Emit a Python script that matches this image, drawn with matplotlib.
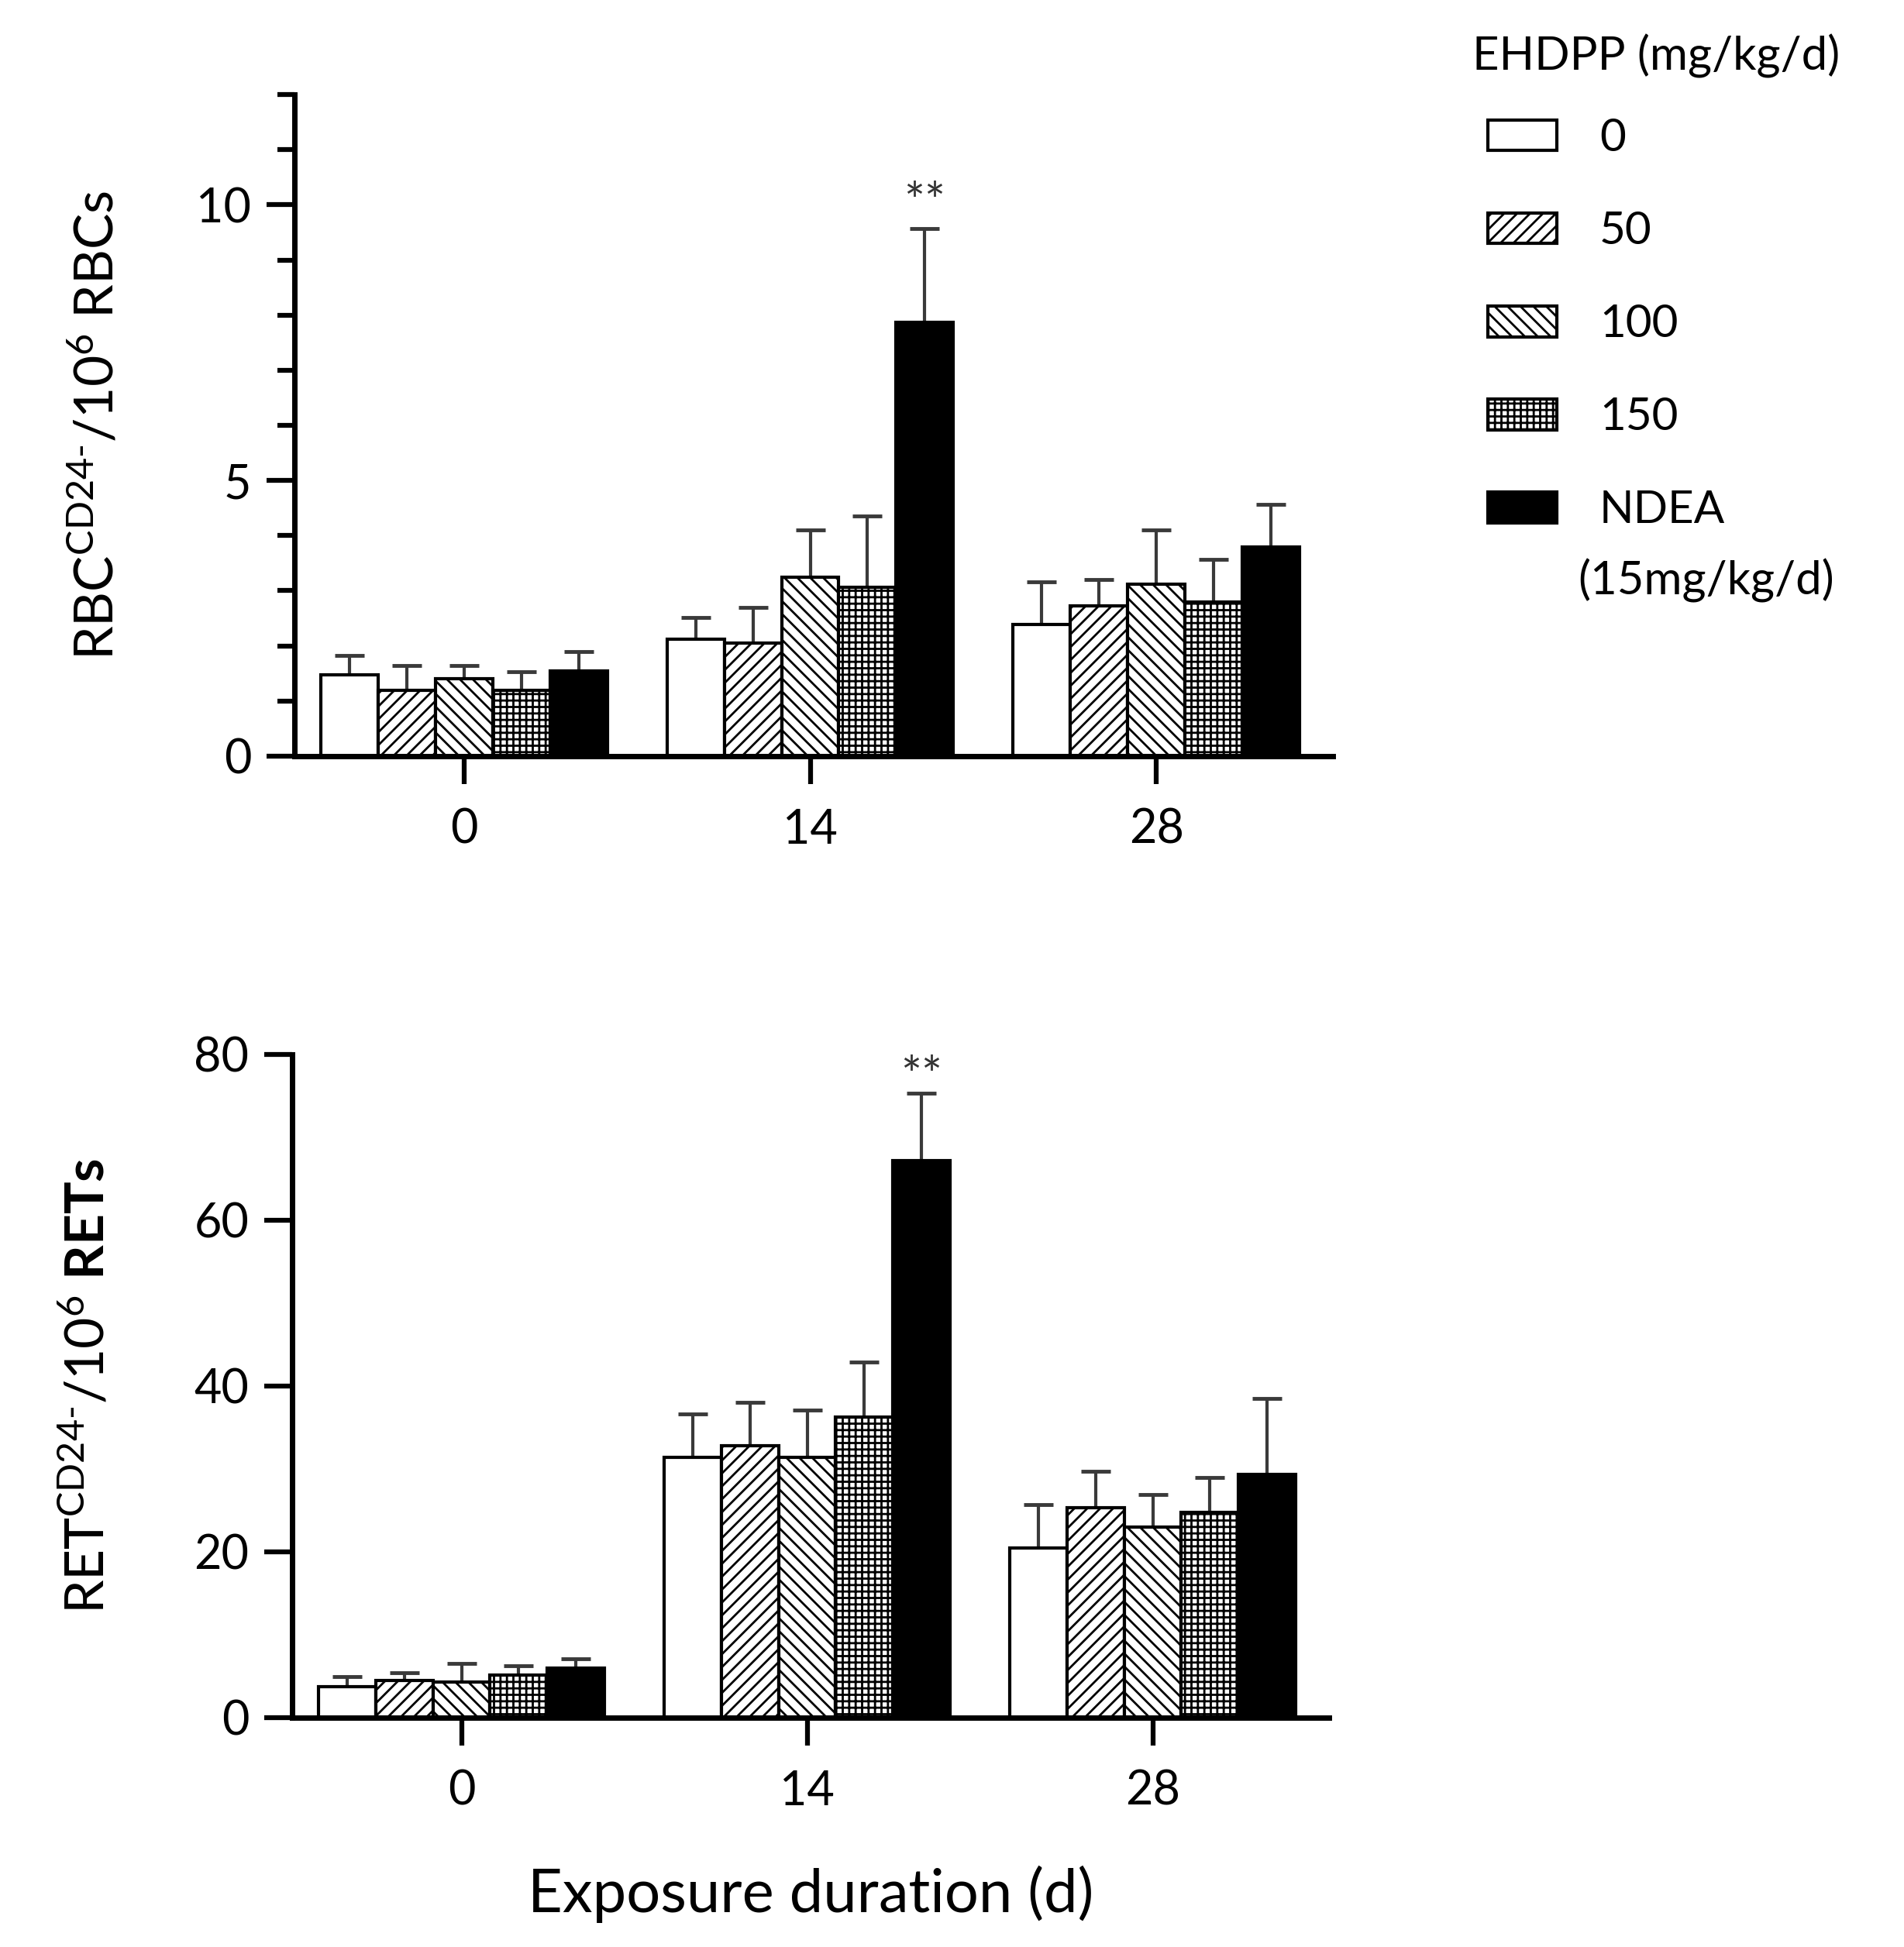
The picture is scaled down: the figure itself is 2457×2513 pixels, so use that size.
import matplotlib
matplotlib.use("Agg")
import matplotlib.pyplot as plt
import numpy as np

plt.rcParams['font.family'] = ['Lato', 'DejaVu Sans']
plt.rcParams['mathtext.fontset'] = 'custom'
plt.rcParams['mathtext.rm'] = 'Lato'
plt.rcParams['mathtext.it'] = 'Lato:italic'
plt.rcParams['mathtext.bf'] = 'Lato:bold'
plt.rcParams['hatch.linewidth'] = 2.0

# ---- data ----
days = ['0', '14', '28']
groups = ['0', '50', '100', '150', 'NDEA']
hatches = ['', '//', '\\\\', '++', '']
facecolors = ['white', 'white', 'white', 'white', 'black']

rbc_ctrl = [1.47, 2.12, 2.39]
rbc_50 = [1.20, 2.05, 2.72]
rbc_100 = [1.41, 3.24, 3.12]
rbc_150 = [1.20, 3.06, 2.79]
rbc_ndea = [1.55, 7.87, 3.80]
rbc_err_ctrl = [0.36, 0.39, 0.77]
rbc_err_50 = [0.45, 0.65, 0.48]
rbc_err_100 = [0.24, 0.87, 0.99]
rbc_err_150 = [0.33, 1.30, 0.78]
rbc_err_ndea = [0.34, 1.70, 0.77]

ret_ctrl = [3.7, 31.4, 20.5]
ret_50 = [4.5, 32.8, 25.3]
ret_100 = [4.3, 31.4, 23.0]
ret_150 = [5.1, 36.3, 24.8]
ret_ndea = [6.0, 67.2, 29.3]
ret_err_ctrl = [1.3, 5.2, 5.2]
ret_err_50 = [0.9, 5.2, 4.4]
ret_err_100 = [2.2, 5.7, 3.9]
ret_err_150 = [1.15, 6.6, 4.2]
ret_err_ndea = [1.1, 8.1, 9.2]

rbc_vals = [rbc_ctrl, rbc_50, rbc_100, rbc_150, rbc_ndea]
rbc_errs = [rbc_err_ctrl, rbc_err_50, rbc_err_100, rbc_err_150, rbc_err_ndea]
ret_vals = [ret_ctrl, ret_50, ret_100, ret_150, ret_ndea]
ret_errs = [ret_err_ctrl, ret_err_50, ret_err_100, ret_err_150, ret_err_ndea]

W, H = 2457, 2513
fig = plt.figure(figsize=(W / 100, H / 100), dpi=100)

ax1 = fig.add_axes([380 / W, 1 - 976 / H, 1340 / W, 854 / H])
ax2 = fig.add_axes([377 / W, 1 - 2217 / H, 1338 / W, 856 / H])

bw = 0.1655
x = np.arange(len(days))
err_color = '#3a3a3a'


def draw(ax, vals, errs):
    handles = []
    for i, (v, e) in enumerate(zip(vals, errs)):
        xs = x + (i - 2) * bw
        b = ax.bar(xs, v, width=bw, color=facecolors[i], edgecolor='black',
                   linewidth=3.0, hatch=hatches[i], zorder=2, label=groups[i])
        handles.append(b)
        ax.errorbar(xs, v, yerr=[np.zeros(len(v)), e], fmt='none',
                    ecolor=err_color, elinewidth=3.0, capsize=14, capthick=3.5,
                    zorder=1)
    ax.set_xlim(-0.49, 2.51)
    ax.set_xticks(x)
    ax.set_xticklabels(days)
    for s in ['top', 'right']:
        ax.spines[s].set_visible(False)
    for s in ['left', 'bottom']:
        ax.spines[s].set_linewidth(5)
    ax.tick_params(axis='both', which='major', width=4.5, length=26,
                   labelsize=44, pad=14)
    ax.tick_params(axis='x', which='major', pad=22)
    ax.tick_params(axis='y', which='minor', width=4.5, length=16)
    return handles


handles = draw(ax1, rbc_vals, rbc_errs)
ax1.set_ylim(0, 12)
ax1.set_yticks([0, 5, 10])
ax1.set_yticks(np.arange(0, 13, 1), minor=True)
ax1.spines['left'].set_bounds(0, 12)
ax1.text(x[1] + 2 * bw, 10.0, '**', ha='center', va='center', fontsize=46,
         color='#333333')
ax1.set_ylabel(r'RBC$^{\mathregular{CD24\text{-}}}$/10$^{\mathregular{6}}$ RBCs',
               fontsize=50)
ax1.yaxis.set_label_coords(-0.165, 0.5)

draw(ax2, ret_vals, ret_errs)
ax2.set_ylim(0, 80)
ax2.set_yticks([0, 20, 40, 60, 80])
ax2.text(x[1] + 2 * bw, 77.1, '**', ha='center', va='center', fontsize=46,
         color='#333333')
ax2.set_ylabel(r'RET$^{\mathregular{CD24\text{-}}}$/10$^{\mathregular{6}}$ $\mathbf{RETs}$',
               fontsize=50)
ax2.yaxis.set_label_coords(-0.172, 0.5)
ax2.set_xlabel('Exposure duration (d)', fontsize=56, labelpad=48)

labels = ['0', '50', '100', '150', 'NDEA']
leg = fig.legend(handles=handles, labels=labels, loc='upper left',
                 bbox_to_anchor=(1920 / W, 1 - 152 / H), frameon=False,
                 fontsize=42, handlelength=1.52, handleheight=0.67,
                 handletextpad=0.95, labelspacing=1.15, borderpad=0,
                 borderaxespad=0)
fig.text(1900 / W, 1 - 72 / H, 'EHDPP (mg/kg/d)', fontsize=43, va='center',
         ha='left')
fig.text(2036 / W, 1 - 749 / H, '(15mg/kg/d)', fontsize=43, va='center',
         ha='left')

fig.savefig('out.png', dpi=100)
